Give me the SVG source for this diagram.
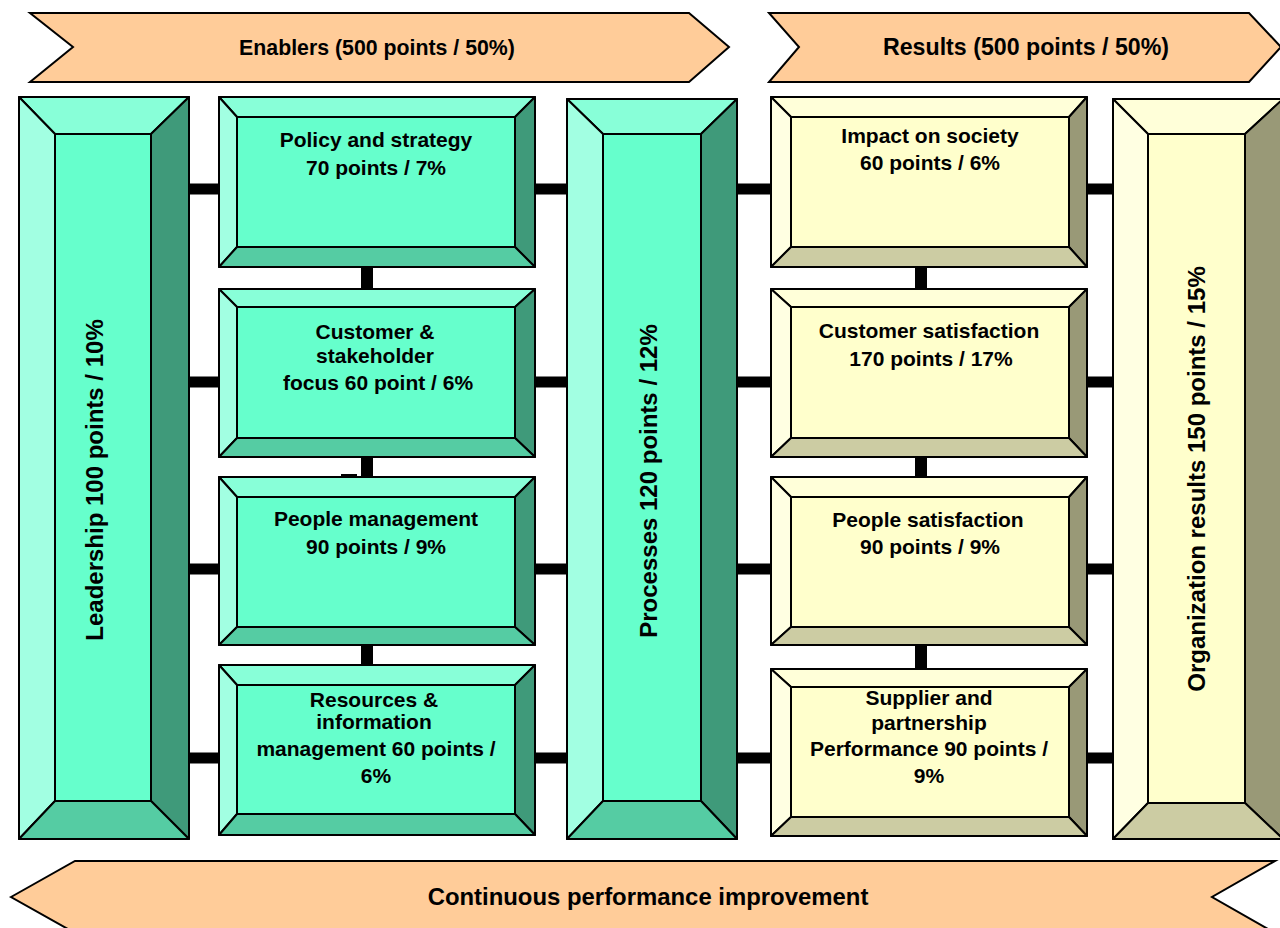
<svg xmlns="http://www.w3.org/2000/svg" width="1280" height="928" viewBox="0 0 1280 928">
  <style>
    .lbl { font-family: "Liberation Sans", Arial, sans-serif; font-weight: bold; fill: #000; text-anchor: middle; }
    .band { font-size: 22px; }
    .box { font-size: 21px; }
    .vert { font-size: 24px; }
    .arrow { fill: #FFCC99; stroke: #000; stroke-width: 2; stroke-linejoin: miter; }
    .edge { stroke: #000; stroke-width: 2; stroke-linejoin: round; }
    .g-front { fill: #66FFCC; } .g-top { fill: #88FFD8; } .g-left { fill: #A2FFE2; } .g-right { fill: #3F9A7A; } .g-bottom { fill: #55CCA3; }
    .y-front { fill: #FFFFCC; } .y-top { fill: #FFFFD9; } .y-left { fill: #FFFFE2; } .y-right { fill: #999977; } .y-bottom { fill: #CCCCA3; }
    .bar { fill: #000; }
  </style>

  <rect width="1280" height="928" fill="#fff"/>

  <!-- Heading bands -->
  <g id="band-enablers">
    <polygon class="arrow" points="30,13 689,13 729,47 689,82 30,82 73,47"/>
    <text class="lbl band" x="377" y="55" style="font-size:21.3px">Enablers (500 points / 50%)</text>
  </g>
  <g id="band-results">
    <polygon class="arrow" points="769,13 1249,13 1281,47 1249,82 769,82 799,47"/>
    <text class="lbl band" x="1026" y="55" style="font-size:23.2px">Results (500 points / 50%)</text>
  </g>

  <!-- Connectors -->
  <g id="connectors">
    <rect class="bar" x="187" y="183.5" width="34" height="11"/>
    <rect class="bar" x="187" y="376.5" width="34" height="11"/>
    <rect class="bar" x="187" y="563.5" width="34" height="11"/>
    <rect class="bar" x="187" y="752.5" width="34" height="11"/>

    <rect class="bar" x="533" y="183.5" width="36" height="11"/>
    <rect class="bar" x="533" y="376.5" width="36" height="11"/>
    <rect class="bar" x="533" y="563.5" width="36" height="11"/>
    <rect class="bar" x="533" y="752.5" width="36" height="11"/>

    <rect class="bar" x="735" y="183.5" width="38" height="11"/>
    <rect class="bar" x="735" y="376.5" width="38" height="11"/>
    <rect class="bar" x="735" y="563.5" width="38" height="11"/>
    <rect class="bar" x="735" y="752.5" width="38" height="11"/>

    <rect class="bar" x="1085" y="183.5" width="30" height="11"/>
    <rect class="bar" x="1085" y="376.5" width="30" height="11"/>
    <rect class="bar" x="1085" y="563.5" width="30" height="11"/>
    <rect class="bar" x="1085" y="752.5" width="30" height="11"/>

    <rect class="bar" x="361" y="265" width="12" height="26"/>
    <rect class="bar" x="361" y="455" width="12" height="24"/>
    <rect class="bar" x="361" y="643" width="12" height="24"/>
    <rect class="bar" x="341" y="474" width="16" height="2"/>

    <rect class="bar" x="915" y="265" width="12" height="26"/>
    <rect class="bar" x="915" y="455" width="12" height="24"/>
    <rect class="bar" x="915" y="643" width="12" height="28"/>
  </g>

  <!-- Leadership -->
  <g id="leadership">
    <polygon class="edge g-top" points="19,97 189,97 151,134 55,134"/>
    <polygon class="edge g-left" points="19,97 55,134 55,801 19,839"/>
    <polygon class="edge g-right" points="189,97 189,839 151,801 151,134"/>
    <polygon class="edge g-bottom" points="19,839 55,801 151,801 189,839"/>
    <rect class="edge g-front" x="55" y="134" width="96" height="667"/>
    <text class="lbl vert" transform="translate(103,480) rotate(-90)">Leadership 100 points / 10%</text>
  </g>

  <!-- Policy and strategy -->
  <g id="policy">
    <polygon class="edge g-top" points="219,97 535,97 515,117 237,117"/>
    <polygon class="edge g-left" points="219,97 237,117 237,247 219,267"/>
    <polygon class="edge g-right" points="535,97 535,267 515,247 515,117"/>
    <polygon class="edge g-bottom" points="219,267 237,247 515,247 535,267"/>
    <rect class="edge g-front" x="237" y="117" width="278" height="130"/>
    <text class="lbl box" x="376" y="147">Policy and strategy</text>
    <text class="lbl box" x="376" y="175">70 points / 7%</text>
  </g>

  <!-- Customer & stakeholder focus -->
  <g id="customer-focus">
    <polygon class="edge g-top" points="219,289 535,289 515,307 237,307"/>
    <polygon class="edge g-left" points="219,289 237,307 237,438 219,457"/>
    <polygon class="edge g-right" points="535,289 535,457 515,438 515,307"/>
    <polygon class="edge g-bottom" points="219,457 237,438 515,438 535,457"/>
    <rect class="edge g-front" x="237" y="307" width="278" height="131"/>
    <text class="lbl box" x="375" y="339">Customer &amp;</text>
    <text class="lbl box" x="375" y="363">stakeholder</text>
    <text class="lbl box" x="378" y="390">focus 60 point / 6%</text>
  </g>

  <!-- People management -->
  <g id="people-management">
    <polygon class="edge g-top" points="219,477 535,477 515,497 237,497"/>
    <polygon class="edge g-left" points="219,477 237,497 237,627 219,645"/>
    <polygon class="edge g-right" points="535,477 535,645 515,627 515,497"/>
    <polygon class="edge g-bottom" points="219,645 237,627 515,627 535,645"/>
    <rect class="edge g-front" x="237" y="497" width="278" height="130"/>
    <text class="lbl box" x="376" y="526">People management</text>
    <text class="lbl box" x="376" y="554">90 points / 9%</text>
  </g>

  <!-- Resources & information management -->
  <g id="resources">
    <polygon class="edge g-top" points="219,665 535,665 515,685 237,685"/>
    <polygon class="edge g-left" points="219,665 237,685 237,814 219,835"/>
    <polygon class="edge g-right" points="535,665 535,835 515,814 515,685"/>
    <polygon class="edge g-bottom" points="219,835 237,814 515,814 535,835"/>
    <rect class="edge g-front" x="237" y="685" width="278" height="129"/>
    <text class="lbl box" x="374" y="707">Resources &amp;</text>
    <text class="lbl box" x="374" y="729">information</text>
    <text class="lbl box" x="376" y="756">management 60 points /</text>
    <text class="lbl box" x="376" y="783">6%</text>
  </g>

  <!-- Processes -->
  <g id="processes">
    <polygon class="edge g-top" points="567,99 737,99 701,134 603,134"/>
    <polygon class="edge g-left" points="567,99 603,134 603,801 567,839"/>
    <polygon class="edge g-right" points="737,99 737,839 701,801 701,134"/>
    <polygon class="edge g-bottom" points="567,839 603,801 701,801 737,839"/>
    <rect class="edge g-front" x="603" y="134" width="98" height="667"/>
    <text class="lbl vert" transform="translate(657,481) rotate(-90)">Processes 120 points / 12%</text>
  </g>

  <!-- Impact on society -->
  <g id="impact-society">
    <polygon class="edge y-top" points="771,97 1087,97 1069,117 791,117"/>
    <polygon class="edge y-left" points="771,97 791,117 791,247 771,267"/>
    <polygon class="edge y-right" points="1087,97 1087,267 1069,247 1069,117"/>
    <polygon class="edge y-bottom" points="771,267 791,247 1069,247 1087,267"/>
    <rect class="edge y-front" x="791" y="117" width="278" height="130"/>
    <text class="lbl box" x="930" y="143">Impact on society</text>
    <text class="lbl box" x="930" y="170">60 points / 6%</text>
  </g>

  <!-- Customer satisfaction -->
  <g id="customer-satisfaction">
    <polygon class="edge y-top" points="771,289 1087,289 1069,307 791,307"/>
    <polygon class="edge y-left" points="771,289 791,307 791,438 771,457"/>
    <polygon class="edge y-right" points="1087,289 1087,457 1069,438 1069,307"/>
    <polygon class="edge y-bottom" points="771,457 791,438 1069,438 1087,457"/>
    <rect class="edge y-front" x="791" y="307" width="278" height="131"/>
    <text class="lbl box" x="929" y="338">Customer satisfaction</text>
    <text class="lbl box" x="931" y="366">170 points / 17%</text>
  </g>

  <!-- People satisfaction -->
  <g id="people-satisfaction">
    <polygon class="edge y-top" points="771,477 1087,477 1069,497 791,497"/>
    <polygon class="edge y-left" points="771,477 791,497 791,627 771,645"/>
    <polygon class="edge y-right" points="1087,477 1087,645 1069,627 1069,497"/>
    <polygon class="edge y-bottom" points="771,645 791,627 1069,627 1087,645"/>
    <rect class="edge y-front" x="791" y="497" width="278" height="130"/>
    <text class="lbl box" x="928" y="527">People satisfaction</text>
    <text class="lbl box" x="930" y="554">90 points / 9%</text>
  </g>

  <!-- Supplier and partnership performance -->
  <g id="supplier-partnership">
    <polygon class="edge y-top" points="771,669 1087,669 1069,687 791,687"/>
    <polygon class="edge y-left" points="771,669 791,687 791,817 771,836"/>
    <polygon class="edge y-right" points="1087,669 1087,836 1069,817 1069,687"/>
    <polygon class="edge y-bottom" points="771,836 791,817 1069,817 1087,836"/>
    <rect class="edge y-front" x="791" y="687" width="278" height="130"/>
    <text class="lbl box" x="929" y="705">Supplier and</text>
    <text class="lbl box" x="929" y="730">partnership</text>
    <text class="lbl box" x="929" y="756">Performance 90 points /</text>
    <text class="lbl box" x="929" y="783">9%</text>
  </g>

  <!-- Organization results -->
  <g id="organization-results">
    <polygon class="edge y-top" points="1113,99 1283,99 1245,134 1148,134"/>
    <polygon class="edge y-left" points="1113,99 1148,134 1148,803 1113,839"/>
    <polygon class="edge y-right" points="1283,99 1283,839 1245,803 1245,134"/>
    <polygon class="edge y-bottom" points="1113,839 1148,803 1245,803 1283,839"/>
    <rect class="edge y-front" x="1148" y="134" width="97" height="669"/>
    <text class="lbl vert" transform="translate(1205,479) rotate(-90)">Organization results 150 points / 15%</text>
  </g>

  <!-- Feedback band -->
  <g id="band-improvement">
    <polygon class="arrow" points="11,897 75,861 1275,861 1212,897 1275,933 75,933"/>
    <text class="lbl band" x="648" y="905" style="font-size:23.9px">Continuous performance improvement</text>
  </g>
</svg>
